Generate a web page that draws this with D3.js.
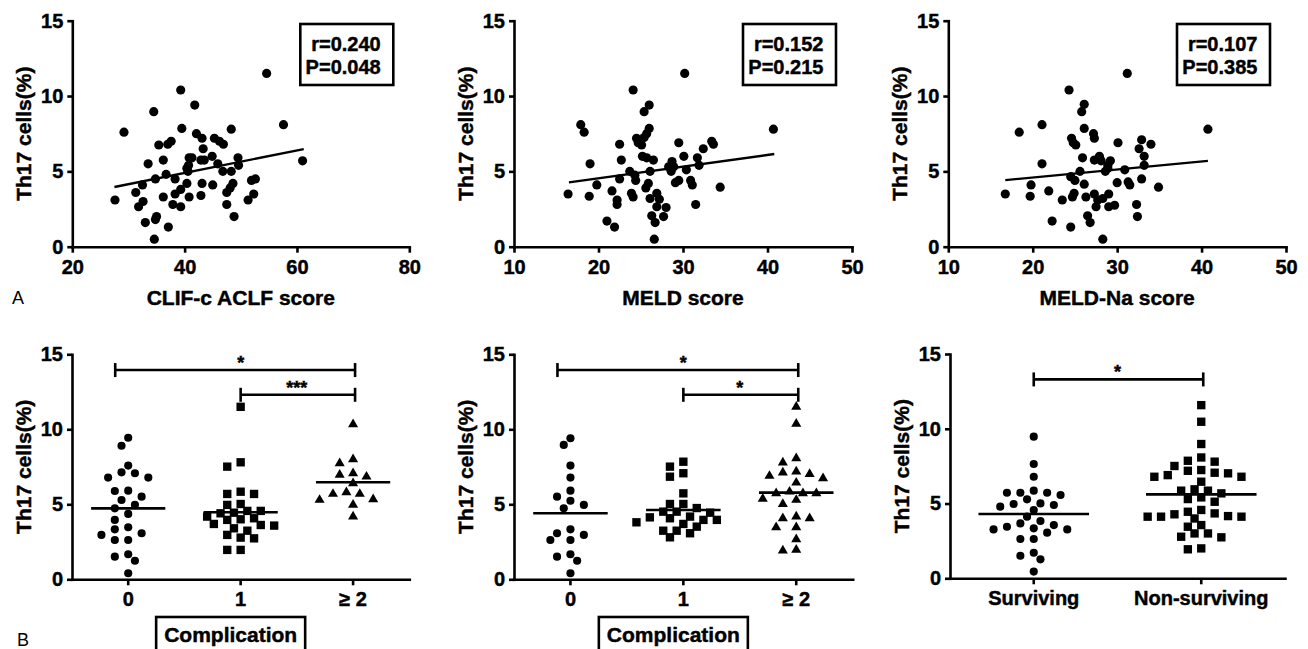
<!DOCTYPE html>
<html>
<head>
<meta charset="utf-8">
<script src="https://cdn.jsdelivr.net/npm/d3@7"></script>
<style>
  body { margin: 0; background: #fff; }
  svg { font-family: "Liberation Sans", Arial, sans-serif; }
  .heavy { stroke: #000; stroke-width: 0.45px; paint-order: stroke; }
</style>
</head>
<body>
<svg id="chart" width="1308" height="649"></svg>
<script>
// ---- data ----
const yTicks = [0, 5, 10, 15];
const clifTicks = [20, 40, 60, 80];
const meldTicks = [10, 20, 30, 40, 50];

const clifPoints = [
  [54.6,11.5],[39.3,10.4],[41.8,9.4],[34.5,8.96],[29.2,7.6],[39.5,7.85],[48.3,7.8],[57.6,8.1],
  [42.1,7.5],[43.1,7.2],[37.6,7.0],[37.0,6.8],[35.4,6.75],[45.3,7.2],[46.2,7.0],[46.9,6.8],
  [43.3,6.5],[40.8,5.9],[41.3,5.9],[42.9,5.75],[43.5,5.75],[44.9,6.0],[36.2,5.75],[33.5,5.5],
  [49.5,5.9],[49.6,5.4],[45.9,5.5],[40.7,5.4],[40.4,5.2],[40.6,5.0],[46.8,5.0],[48.3,5.0],
  [36.7,4.8],[34.8,4.5],[38.3,4.5],[40.4,4.2],[43.1,4.2],[45.0,4.1],[48.6,4.2],[48.1,3.9],
  [51.9,4.4],[52.6,4.5],[32.5,4.1],[31.3,3.6],[39.3,3.8],[38.3,3.5],[40.8,3.3],[42.9,3.4],
  [36.2,3.3],[47.5,3.6],[52.3,3.5],[51.3,3.1],[27.6,3.1],[32.6,3.0],[31.8,2.65],[37.9,2.8],
  [39.3,2.65],[47.5,2.8],[48.8,2.0],[35.0,2.0],[34.8,1.8],[33.0,1.6],[37.1,1.3],[34.6,0.5],
  [61.0,5.7]
];
const meldPoints = [
  [30.2,11.5],[24.1,10.4],[26.0,9.4],[25.4,8.96],[17.9,8.1],[18.3,7.6],[40.7,7.8],[26.0,7.85],
  [25.7,7.5],[25.4,7.25],[24.5,7.2],[24.7,6.9],[25.1,6.75],[22.5,6.8],[29.5,6.9],[33.4,7.0],
  [33.6,6.8],[32.4,6.5],[25.2,6.0],[25.7,5.9],[30.1,6.0],[31.7,5.9],[22.7,5.75],[26.5,5.75],
  [19.0,5.5],[28.7,5.65],[28.9,5.3],[28.3,5.3],[31.9,5.4],[30.4,5.1],[23.7,5.0],[26.1,5.0],
  [28.6,5.0],[24.3,4.75],[22.5,4.5],[24.4,4.4],[29.5,4.4],[29.1,4.25],[30.9,4.4],[31.1,4.1],
  [19.8,4.1],[25.9,4.2],[25.6,3.9],[34.4,3.95],[16.4,3.5],[18.9,3.35],[21.6,3.7],[23.9,3.55],
  [24.1,3.3],[26.9,3.55],[26.1,3.2],[27.2,3.15],[22.2,3.1],[22.2,2.8],[31.5,2.8],[28.0,2.6],
  [26.9,2.65],[26.3,2.05],[27.7,2.0],[21.0,1.7],[21.9,1.3],[26.7,1.6],[26.6,0.5]
];
const meldNaPoints = [
  [31.2,11.5],[24.3,10.4],[26.1,9.45],[25.8,8.96],[21.1,8.1],[18.4,7.6],[40.75,7.8],[26.1,7.85],
  [27.2,7.5],[27.3,7.2],[24.6,7.2],[24.8,6.9],[25.1,6.75],[30.1,6.9],[32.9,7.1],[34.0,6.8],
  [32.6,6.5],[33.2,6.0],[25.9,5.9],[27.9,6.0],[27.3,5.75],[28.1,5.7],[29.2,5.7],[33.2,5.4],
  [21.1,5.5],[28.9,5.4],[28.9,5.2],[28.6,5.0],[30.9,5.1],[25.6,5.0],[24.5,4.65],[25.0,4.4],
  [32.9,4.5],[31.3,4.3],[31.5,4.1],[30.0,4.25],[26.1,4.15],[19.8,4.1],[34.9,3.95],[21.9,3.7],
  [16.75,3.5],[19.7,3.35],[24.9,3.55],[24.7,3.3],[26.3,3.3],[27.3,3.5],[27.7,3.1],[28.3,3.2],
  [29.0,3.5],[23.5,3.1],[27.5,2.65],[29.0,2.65],[29.7,2.75],[32.3,2.8],[26.5,2.05],[32.4,2.0],
  [22.3,1.7],[26.8,1.6],[24.5,1.3],[28.3,0.5]
];
// fitted regression lines, read as endpoints [x, y]
const clifFit = [[27.5, 3.96], [61.2, 6.48]];
const meldFit = [[16.5, 4.27], [40.8, 6.15]];
const meldNaFit = [[16.75, 4.42], [40.75, 5.7]];
const clifStats = ["r=0.240", "P=0.048"];
const meldStats = ["r=0.152", "P=0.215"];
const meldNaStats = ["r=0.107", "P=0.385"];

const complicationCats = ["0", "1", "\u2265 2"];
const survivalCats = ["Surviving", "Non-surviving"];

const b1Zero = [9.44,8.9,7.58,7.07,6.78,6.78,7.13,5.91,5.89,5.29,5.51,4.73,4.96,4.36,3.96,3.47,3.33,2.96,3.07,2.62,2.62,1.67,1.51,1.24,0.4];
const b1One = [11.5,7.51,7.8,5.84,5.69,5.69,4.96,5.02,4.4,4.56,4.56,4.44,4.18,4.0,4.07,3.96,3.69,3.4,3.58,3.24,3.62,2.73,2.96,2.78,1.96,1.96];
const b1Two = [10.33,8.0,7.73,6.96,6.84,7.07,6.4,5.69,5.33,5.29,5.69,5.8,4.96,4.18];
const b1Means = [4.73, 4.47, 6.47];
const b1Sig = [{ from: 0, to: 2, y: 13.95, label: "*" }, { from: 1, to: 2, y: 12.3, label: "***" }];

const b2Zero = [9.4,8.96,7.58,6.78,5.51,4.96,5.91,4.73,5.24,3.33,2.96,3.07,2.62,2.62,1.67,1.51,1.24,0.4];
const b2One = [7.84,7.51,7.07,6.84,5.73,5.02,5.02,4.18,4.51,4.51,4.44,4.13,3.51,3.96,4.07,3.96,3.24,3.69,3.07,3.24,2.8,4.75,3.8];
const b2Two = [11.5,10.36,8.07,7.78,7.02,6.73,7.18,6.89,7.11,6.44,5.73,5.36,5.84,5.02,5.73,5.29,5.73,4.07,4.07,4.18,3.47,3.47,2.67,1.91,1.96];
const b2Means = [4.4, 4.62, 5.78];
const b2Sig = [{ from: 0, to: 2, y: 13.95, label: "*" }, { from: 1, to: 2, y: 12.3, label: "*" }];

const surviving = [9.47,7.64,6.79,5.72,5.72,5.57,5.72,5.86,5.28,5.01,4.9,4.57,4.79,4.97,4.12,3.45,3.27,3.67,3.56,3.83,3.27,3.34,3.05,2.63,2.63,1.71,1.51,1.27,0.45];
const nonSurviving = [11.58,10.47,8.98,8.08,7.8,7.86,7.51,7.24,7.19,7.02,7.06,6.79,6.79,6.9,6.46,5.86,5.68,5.86,5.95,5.3,5.41,5.12,4.57,4.45,4.34,4.16,4.12,4.0,4.12,4.12,4.28,3.56,3.45,3.0,3.0,2.74,2.78,1.94,2.0];
const b3Means = [4.3, 5.61];
const b3Sig = [{ from: 0, to: 1, y: 13.3, label: "*" }];

// ---- drawing ----
const svg = d3.select("#chart");
const fontFam = '"Liberation Sans", Arial, sans-serif';
const ink = "#000";
const axisW = 2.6;

function styleAxis(g) {
  g.attr("font-size", null).attr("font-family", null);
  g.select(".domain").attr("stroke", ink).attr("stroke-width", axisW).attr("stroke-linecap", "square");
  g.selectAll(".tick line").attr("stroke", ink).attr("stroke-width", axisW);
  g.selectAll(".tick text")
    .attr("class", "heavy")
    .attr("fill", ink)
    .style("font-size", "20px")
    .style("font-weight", "bold")
    .style("font-family", fontFam);
}

function boldText(sel, size) {
  return sel.attr("class", "heavy").style("font-size", size + "px").style("font-weight", "bold");
}

function yTitle(p, yTop, yBot) {
  const cy = (yTop + yBot) / 2;
  svg.append("text")
    .attr("transform", `translate(${p.x0 - 49},${cy}) rotate(-90)`)
    .attr("text-anchor", "middle")
    .attr("dy", "0.36em")
    .call(boldText, 21)
    .text("Th17 cells(%)");
}

function drawScatter(p) {
  const yTop = 20.7, yBot = 246.7;
  const x = d3.scaleLinear().domain(d3.extent(p.ticks)).range([p.x0, p.x1]);
  const y = d3.scaleLinear().domain([0, 15]).range([yBot, yTop]);

  svg.append("g")
    .attr("transform", `translate(0,${yBot})`)
    .call(d3.axisBottom(x).tickValues(p.ticks).tickSize(6).tickPadding(7).tickSizeOuter(0))
    .call(styleAxis);

  svg.append("g")
    .attr("transform", `translate(${p.x0},0)`)
    .call(d3.axisLeft(y).tickValues(yTicks).tickSize(5).tickPadding(4).tickSizeOuter(0))
    .call(styleAxis);

  svg.append("g")
    .selectAll("path")
    .data(p.points)
    .join("path")
    .attr("transform", d => `translate(${x(d[0])},${y(d[1])})`)
    .attr("d", d3.symbol(d3.symbolCircle, 66)())
    .attr("fill", ink);

  svg.append("line")
    .attr("x1", x(p.fit[0][0])).attr("y1", y(p.fit[0][1]))
    .attr("x2", x(p.fit[1][0])).attr("y2", y(p.fit[1][1]))
    .attr("stroke", ink).attr("stroke-width", 2.4);

  // r / P box
  const bx = p.x1 - 16 - 93;
  svg.append("rect")
    .attr("x", bx).attr("y", 24).attr("width", 93).attr("height", 61)
    .attr("fill", "none").attr("stroke", ink).attr("stroke-width", 2.6);
  p.stats.forEach((s, i) => {
    svg.append("text")
      .attr("x", p.x1 - 28.6)
      .attr("y", 51 + i * 23.3)
      .attr("text-anchor", "end")
      .call(boldText, 20)
      .text(s);
  });

  svg.append("text")
    .attr("x", (p.x0 + p.x1) / 2)
    .attr("y", 305)
    .attr("text-anchor", "middle")
    .call(boldText, 21)
    .text(p.xTitle);

  yTitle(p, yTop, yBot);
}

// beeswarm: offsets on a half-step lattice, nearest to centre without touching a placed dot
function swarm(vals, y, step, gap) {
  const order = d3.range(vals.length).sort((a, b) => vals[b] - vals[a]);
  const placed = [];
  const offs = new Array(vals.length).fill(0);
  order.forEach(i => {
    const py = y(vals[i]);
    for (let k = 0; k < 40; k++) {
      const c = k === 0 ? 0 : (k % 2 ? -Math.ceil(k / 2) : Math.ceil(k / 2));
      const ox = c * step / 2;
      if (!placed.some(q => (q.x - ox) ** 2 + (q.y - py) ** 2 < gap * gap)) {
        placed.push({ x: ox, y: py });
        offs[i] = ox;
        break;
      }
    }
  });
  return offs;
}

function drawGroups(p) {
  const x = d3.scaleBand().domain(p.cats).range([p.x0, p.x1]);
  const y = d3.scaleLinear().domain([0, 15]).range([p.yBot, p.yTop]);
  const bw = x.bandwidth();
  const cx = i => x(p.cats[i]) + bw / 2;

  svg.append("g")
    .attr("transform", `translate(0,${p.yBot})`)
    .call(d3.axisBottom(x).tickSize(6).tickPadding(7).tickSizeOuter(0))
    .call(styleAxis);

  svg.append("g")
    .attr("transform", `translate(${p.x0},0)`)
    .call(d3.axisLeft(y).tickValues(yTicks).tickSize(5).tickPadding(4).tickSizeOuter(0))
    .call(styleAxis);

  p.groups.forEach((vals, i) => {
    const offs = swarm(vals, y, 13.4, 9.3);
    svg.append("g")
      .selectAll("path")
      .data(vals)
      .join("path")
      .attr("transform", (d, j) => `translate(${cx(i) + offs[j]},${y(d)})`)
      .attr("d", d3.symbol(p.shapes[i].type, p.shapes[i].size)())
      .attr("fill", ink);

    svg.append("line")
      .attr("x1", cx(i) - bw * 0.33).attr("x2", cx(i) + bw * 0.33)
      .attr("y1", y(p.means[i])).attr("y2", y(p.means[i]))
      .attr("stroke", ink).attr("stroke-width", 2.6);
  });

  p.sig.forEach(s => {
    const yy = y(s.y);
    const xa = cx(s.from) - (s.to - s.from > 1 ? 13 : 0), xb = cx(s.to) + 2;
    const g = svg.append("g").attr("stroke", ink).attr("stroke-width", 2.6);
    g.append("line").attr("x1", xa).attr("x2", xb).attr("y1", yy).attr("y2", yy);
    g.append("line").attr("x1", xa).attr("x2", xa).attr("y1", yy - 7).attr("y2", yy + 7);
    g.append("line").attr("x1", xb).attr("x2", xb).attr("y1", yy - 7).attr("y2", yy + 7);
    svg.append("text")
      .attr("x", (cx(s.from) + cx(s.to)) / 2)
      .attr("y", yy - 1)
      .attr("text-anchor", "middle")
      .call(boldText, 18)
      .text(s.label);
  });

  if (p.xTitle) {
    const tx = (p.x0 + p.x1) / 2 - 10;
    const t = svg.append("text")
      .attr("x", tx)
      .attr("y", 641.5)
      .attr("text-anchor", "middle")
      .call(boldText, 21)
      .text(p.xTitle);
    const w = t.node().getComputedTextLength();
    svg.append("rect")
      .attr("x", tx - w / 2 - 8).attr("y", 617)
      .attr("width", w + 16).attr("height", 45)
      .attr("fill", "none").attr("stroke", ink).attr("stroke-width", 2.6);
  }

  yTitle(p, p.yTop, p.yBot);
}

const circle = { type: d3.symbolCircle, size: 52 };
const square = { type: d3.symbolSquare, size: 70 };
const triangle = { type: d3.symbolTriangle, size: 44 };

drawScatter({ x0: 72.3, x1: 409.3, ticks: clifTicks, points: clifPoints, fit: clifFit, stats: clifStats, xTitle: "CLIF-c ACLF score" });
drawScatter({ x0: 514, x1: 852, ticks: meldTicks, points: meldPoints, fit: meldFit, stats: meldStats, xTitle: "MELD score" });
drawScatter({ x0: 948.3, x1: 1286, ticks: meldTicks, points: meldNaPoints, fit: meldNaFit, stats: meldNaStats, xTitle: "MELD-Na score" });

drawGroups({ x0: 72, x1: 409.3, yTop: 354.3, yBot: 579.3, cats: complicationCats,
  groups: [b1Zero, b1One, b1Two], shapes: [circle, square, triangle], means: b1Means, sig: b1Sig, xTitle: "Complication" });
drawGroups({ x0: 514, x1: 852.7, yTop: 354.3, yBot: 579.3, cats: complicationCats,
  groups: [b2Zero, b2One, b2Two], shapes: [circle, square, triangle], means: b2Means, sig: b2Sig, xTitle: "Complication" });
drawGroups({ x0: 950, x1: 1285, yTop: 354, yBot: 578.3, cats: survivalCats,
  groups: [surviving, nonSurviving], shapes: [circle, square], means: b3Means, sig: b3Sig, xTitle: null });

// panel letters
svg.append("text").attr("x", 12).attr("y", 304).style("font-size", "18px").text("A");
svg.append("text").attr("x", 17).attr("y", 646).style("font-size", "18px").text("B");
</script>
</body>
</html>
